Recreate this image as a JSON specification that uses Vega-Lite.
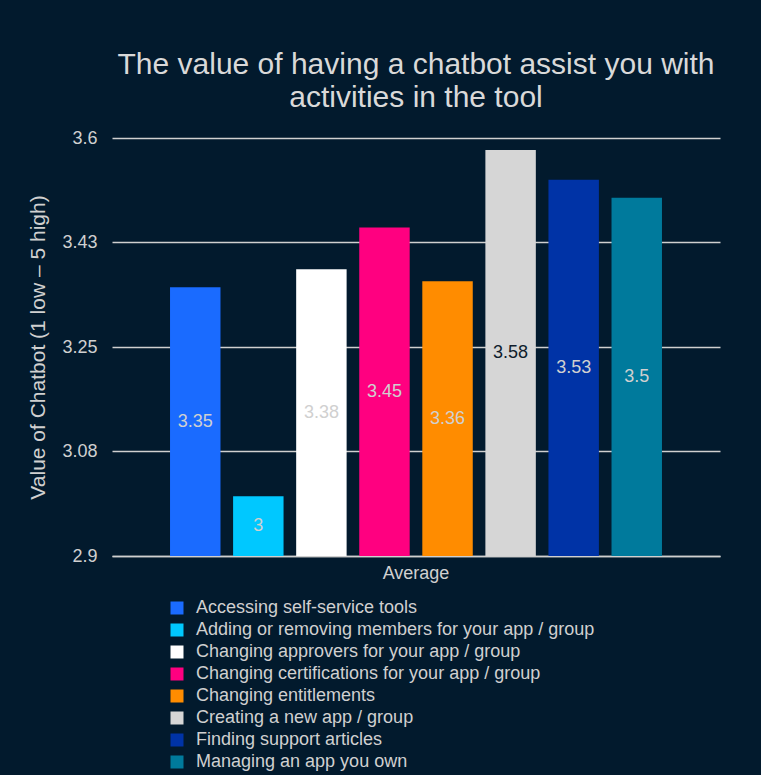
{
  "$schema": "https://vega.github.io/schema/vega-lite/v6.json",
  "width": 608,
  "height": 418,
  "autosize": {"type": "none"},
  "padding": {"left": 112, "top": 138, "right": 41, "bottom": 219},
  "background": "#021a2d",
  "title": {
    "text": ["The value of having a chatbot assist you with", "activities in the tool"],
    "font": "Liberation Sans",
    "fontSize": 30,
    "fontWeight": "normal",
    "color": "#d9d9d9",
    "anchor": "middle",
    "lineHeight": 33,
    "offset": 16
  },
  "data": {
    "values": [
      {"activity": "Accessing self-service tools", "group": "Average", "value": 3.35},
      {"activity": "Adding or removing members for your app / group", "group": "Average", "value": 3.0},
      {"activity": "Changing approvers for your app / group", "group": "Average", "value": 3.38},
      {"activity": "Changing certifications for your app / group", "group": "Average", "value": 3.45},
      {"activity": "Changing entitlements", "group": "Average", "value": 3.36},
      {"activity": "Creating a new app / group", "group": "Average", "value": 3.58},
      {"activity": "Finding support articles", "group": "Average", "value": 3.53},
      {"activity": "Managing an app you own", "group": "Average", "value": 3.5}
    ]
  },
  "encoding": {
    "x": {
      "field": "group",
      "type": "nominal",
      "scale": {"paddingInner": 0, "paddingOuter": 0},
      "axis": {
        "title": null,
        "labelAngle": 0,
        "labelFontSize": 18,
        "labelColor": "#d0d0d0",
        "labelPadding": 8,
        "ticks": false,
        "domain": true,
        "domainColor": "#d0d0d0",
        "domainWidth": 1.5,
        "grid": false
      }
    },
    "xOffset": {
      "field": "activity",
      "type": "nominal",
      "sort": null,
      "scale": {"paddingInner": 0.2, "paddingOuter": 0.92}
    }
  },
  "layer": [
    {
      "mark": {"type": "bar"},
      "encoding": {
        "y": {
          "field": "value",
          "type": "quantitative",
          "scale": {"domain": [2.9, 3.6], "zero": false, "nice": false},
          "axis": {
            "title": "Value of Chatbot (1 low – 5 high)",
            "titleFont": "Liberation Sans",
            "titleFontSize": 21,
            "titleFontWeight": "normal",
            "titleColor": "#d0d0d0",
            "titlePadding": 13,
            "labelFont": "Liberation Sans",
            "labelFontSize": 18,
            "labelColor": "#d0d0d0",
            "labelPadding": 15,
            "domain": false,
            "ticks": false,
            "gridColor": "#d0d0d0",
            "gridWidth": 1.5,
            "values": [2.9, 3.0751, 3.25, 3.4251, 3.6],
            "format": ".3~"
          }
        },
        "y2": {"datum": 2.9},
        "color": {
          "field": "activity",
          "type": "nominal",
          "sort": null,
          "scale": {
            "range": ["#1a6bff", "#00c8ff", "#ffffff", "#ff0080", "#ff8c00", "#d6d6d6", "#0033a6", "#007a9c"]
          },
          "legend": {
            "orient": "none",
            "legendX": 56,
            "legendY": 461,
            "title": null,
            "padding": 0,
            "labelFont": "Liberation Sans",
            "labelFontSize": 18,
            "labelColor": "#d0d0d0",
            "labelOffset": 10,
            "labelLimit": 600,
            "symbolType": "square",
            "symbolSize": 169,
            "symbolStrokeWidth": 0,
            "rowPadding": 4
          }
        }
      }
    },
    {
      "mark": {"type": "text", "font": "Liberation Sans", "fontSize": 18, "baseline": "middle"},
      "encoding": {
        "y": {
          "field": "value",
          "type": "quantitative",
          "scale": {"domain": [2.9, 4.3], "zero": false, "nice": false},
          "axis": null
        },
        "text": {"field": "value", "type": "quantitative"},
        "color": {
          "condition": {"test": "datum.value == 3.58", "value": "#0f1c2c"},
          "value": "#d0d0d0"
        }
      }
    }
  ],
  "resolve": {"scale": {"y": "independent"}},
  "config": {
    "view": {"stroke": null},
    "font": "Liberation Sans"
  }
}
